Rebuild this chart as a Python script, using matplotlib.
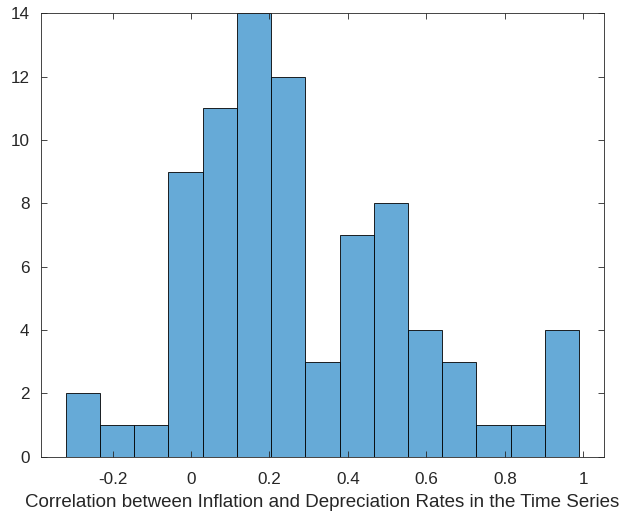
import numpy as np
import matplotlib.pyplot as plt

# histogram of correlations (15 equal bins between min and max)
edge_lo = -0.319
edge_hi = 0.989
counts = [2, 1, 1, 9, 11, 14, 12, 3, 7, 8, 4, 3, 1, 1, 4]
xticks = [-0.2, 0, 0.2, 0.4, 0.6, 0.8, 1]
xtick_labels = ['-0.2', '0', '0.2', '0.4', '0.6', '0.8', '1']
yticks = [0, 2, 4, 6, 8, 10, 12, 14]

plt.rcParams['font.family'] = ['Liberation Sans', 'DejaVu Sans']
axis_col = '#262626'

edges = np.linspace(edge_lo, edge_hi, len(counts) + 1)
centers = (edges[:-1] + edges[1:]) / 2

fig = plt.figure(figsize=(6.24, 5.15), dpi=100)
ax = fig.add_axes([0.0652, 0.1132, 0.9032, 0.861])
ax.hist(centers, bins=edges, weights=counts, color='#66aad7',
        edgecolor='black', linewidth=0.6)

ax.set_xlim(-0.383, 1.053)
ax.set_ylim(0, 14)
ax.set_xticks(xticks)
ax.set_xticklabels(xtick_labels)
ax.set_yticks(yticks)
ax.tick_params(axis='x', pad=11)
ax.tick_params(axis='y', pad=8)
ax.tick_params(direction='in', top=True, right=True, length=4, width=0.6,
               colors=axis_col, labelsize=12.3)
for s in ax.spines.values():
    s.set_color(axis_col)
    s.set_linewidth(0.6)
ax.set_xlabel('Correlation between Inflation and Depreciation Rates in the Time Series',
              fontsize=13.5, color=axis_col, labelpad=5)

fig.savefig('out.png', dpi=100)
